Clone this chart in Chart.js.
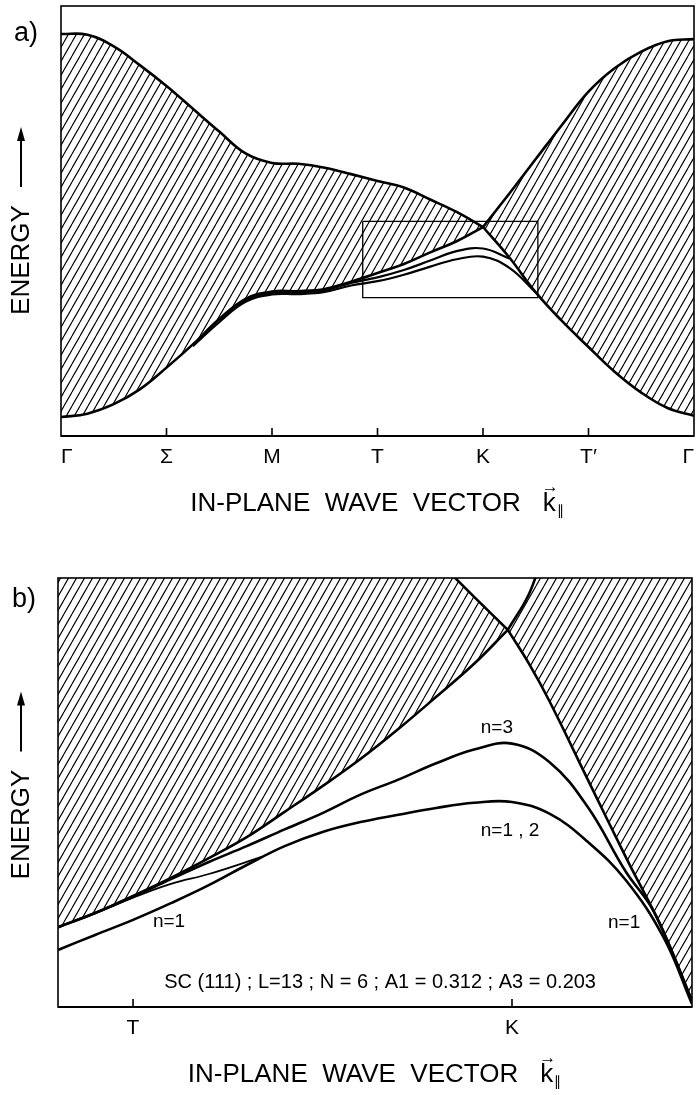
<!DOCTYPE html>
<html lang="en">
<head>
<meta charset="UTF-8">
<title>Surface states SC(111)</title>
<script src="https://cdn.jsdelivr.net/npm/chart.js"></script>
<style>
  html, body { margin: 0; padding: 0; background: #fff; }
  .panel { position: absolute; left: 0; width: 696px; }
  #panelA { top: 0; height: 530px; }
  #panelB { top: 530px; height: 565px; }
</style>
</head>
<body>
<div class="panel" id="panelA"><canvas id="chartA"></canvas></div>
<div class="panel" id="panelB"><canvas id="chartB"></canvas></div>
<script>
// ---- panel a : path G-S-M-T-K-T'-G ----
const ticksA = [0, 1, 2, 3, 4, 5, 6];
const tickLabelsA = ['Γ', 'Σ', 'M', 'T', 'K', 'T′', 'Γ'];
// band edges (K listed twice: the two edges meet there in a cusp)
const kA = [0, 0.25, 0.5, 0.75, 1, 1.25, 1.5, 1.75, 2, 2.25, 2.5, 2.75, 3, 3.25, 3.5, 3.75, 4, 4, 4.25, 4.5, 4.75, 5, 5.25, 5.5, 5.75, 6];
const upperA = [93.5, 93.3, 90.6, 86.2, 81.4, 76.1, 70.8, 65.7, 63.5, 63.3, 62.4, 60.9, 59.3, 57.8, 55.0, 52.1, 48.6, 48.6, 56.4, 64.4, 72.4, 80.1, 85.6, 89.4, 91.8, 92.3];
const lowerA = [4.4, 5.2, 7.4, 10.9, 15.9, 21.3, 27.2, 31.9, 33.6, 33.7, 34.2, 35.9, 37.9, 40.0, 42.7, 45.3, 48.6, 48.6, 41.5, 33.4, 26.7, 20.7, 14.9, 10.1, 6.5, 4.7];
// surface states
const s12A_k = [1.25, 1.5, 1.75, 2, 2.25, 2.5, 2.75, 3, 3.25, 3.5, 3.75, 4, 4.25, 4.5];
const s12A_E = [20.9, 26.5, 31.2, 32.9, 33.0, 33.5, 35.0, 36.0, 37.5, 39.4, 41.1, 41.7, 39.1, 33.4];
const s3A_k = [1.5, 1.75, 2, 2.25, 2.5, 2.75, 3, 3.25, 3.5, 3.75, 4, 4.25];
const s3A_E = [27.0, 31.6, 33.3, 33.4, 33.9, 35.6, 36.9, 38.6, 40.8, 43.0, 43.6, 41.3];
// region enlarged in panel b
const zoomK = [2.86, 4.52];
const zoomE = [32.2, 49.9];

// ---- panel b : close-up around K ----
const ticksB = [3, 4];
const tickLabelsB = ['T', 'K'];
const kB = [2.802, 2.9, 3.0, 3.1, 3.2, 3.3, 3.4, 3.5, 3.6, 3.7, 3.8, 3.9, 3.989, 3.989, 4.047, 4.1, 4.2, 4.3, 4.4, 4.475];
const upperB = [160, 157, 153, 147, 142, 137, 132, 127, 121, 113, 104.4, 95.6, 87.9, 87.9, 96.7, 110, 128, 145, 160, 172];
const lowerB = [18.6, 21.9, 25.9, 30.1, 34.7, 39.6, 45.5, 51.5, 57.8, 64.8, 72.3, 80.0, 87.9, 87.9, 79.7, 71.1, 53.0, 35.0, 17.5, 1.4];
const s3B_k = [2.802, 2.9, 3.0, 3.1, 3.2, 3.3, 3.4, 3.5, 3.6, 3.7, 3.8, 3.9, 4.0, 4.1, 4.2, 4.3, 4.364, 4.4, 4.475];
const s3B_E = [18.6, 21.9, 25.7, 29.8, 33.8, 37.5, 41.4, 45.2, 49.5, 53.0, 56.8, 60.0, 61.4, 57.0, 46.6, 31.6, 23.8, 17.5, 1.4];
const s12B_k = [2.802, 2.9, 3.0, 3.1, 3.2, 3.3, 3.4, 3.5, 3.6, 3.7, 3.8, 3.9, 4.0, 4.1, 4.2, 4.3, 4.4, 4.475];
const s12B_E = [13.3, 16.8, 20.3, 24.2, 28.4, 33.1, 37.5, 40.8, 43.1, 44.8, 46.4, 47.6, 47.8, 45.0, 38.5, 29.6, 16.2, 0.7];
const s2B_k = [2.9, 3.0, 3.1, 3.2, 3.34];
const s2B_E = [21.9, 25.5, 28.7, 31.0, 35.0];

const FAM = "'Liberation Sans', Arial, sans-serif";

const pts = (xs, ys) => xs.map((x, i) => ({ x: x, y: ys[i] }));

function hatch() {
    const c = document.createElement('canvas');
    c.width = 8; c.height = 14;
    const g = c.getContext('2d');
    g.strokeStyle = '#000';
    g.lineWidth = 1.15;
    g.beginPath();
    [-8, 0, 8].forEach(o => { g.moveTo(o, 14); g.lineTo(o + 8, 0); });
    g.stroke();
    return g.createPattern(c, 'repeat');
}
const pattern = hatch();

function curve(data, extra) {
    return Object.assign({
        data: data,
        borderColor: '#000',
        borderWidth: 2.6,
        pointRadius: 0,
        tension: 0.4,
        fill: false
    }, extra || {});
}

function drawYTitle(ctx, cx, cy) {
    ctx.save();
    ctx.translate(cx, cy);
    ctx.rotate(-Math.PI / 2);
    ctx.font = '26px ' + FAM;
    const tw = ctx.measureText('ENERGY').width;
    const arrowLen = 60, gap = 18;
    const L = tw + gap + arrowLen;
    const s = -L / 2;
    ctx.textAlign = 'left';
    ctx.textBaseline = 'middle';
    ctx.fillText('ENERGY', s, 1);
    const a0 = s + tw + gap, a1 = s + L;
    ctx.lineWidth = 2;
    ctx.beginPath(); ctx.moveTo(a0, 0); ctx.lineTo(a1 - 8, 0); ctx.stroke();
    ctx.beginPath(); ctx.moveTo(a1, 0); ctx.lineTo(a1 - 14, -4); ctx.lineTo(a1 - 14, 4); ctx.closePath(); ctx.fill();
    ctx.restore();
}

function drawXTitle(ctx, cx, base) {
    const main = 'IN-PLANE  WAVE  VECTOR';
    ctx.font = '26px ' + FAM;
    const wMain = ctx.measureText(main).width;
    const wK = ctx.measureText('k').width;
    const gap = 22, wSub = 9;
    const x0 = cx - (wMain + gap + wK + wSub) / 2;
    ctx.textAlign = 'left';
    ctx.textBaseline = 'alphabetic';
    ctx.fillText(main, x0, base);
    const kx = x0 + wMain + gap;
    ctx.fillText('k', kx, base);
    ctx.font = '17px ' + FAM;
    ctx.fillText('→', kx - 1, base - 19);
    ctx.font = '14px ' + FAM;
    ctx.fillText('∥', kx + wK + 1, base + 4);
}

const decor = {
    id: 'decor',
    afterDraw(chart, args, o) {
        const { ctx, chartArea: a, scales } = chart;
        const x = scales.x, y = scales.y;
        ctx.save();
        ctx.strokeStyle = '#000';
        ctx.fillStyle = '#000';
        ctx.lineWidth = 1.6;
        ctx.strokeRect(a.left, a.top, a.right - a.left, a.bottom - a.top);
        ctx.lineWidth = 2.2;
        ctx.beginPath(); ctx.moveTo(a.left, a.bottom); ctx.lineTo(a.right, a.bottom); ctx.stroke();
        // tick marks point into the plot
        ctx.lineWidth = 1.6;
        x.ticks.forEach(t => {
            const px = x.getPixelForValue(t.value);
            if (px > a.left + 2 && px < a.right - 2) {
                ctx.beginPath(); ctx.moveTo(px, a.bottom); ctx.lineTo(px, a.bottom - 8); ctx.stroke();
            }
        });
        ctx.font = '27px ' + FAM;
        ctx.textAlign = 'left';
        ctx.textBaseline = 'alphabetic';
        ctx.fillText(o.tag, o.tagX, o.tagY);
        drawYTitle(ctx, 21, (a.top + a.bottom) / 2 + (o.yTitleDy || 0));
        drawXTitle(ctx, (a.left + a.right) / 2, a.bottom + 75);
        (o.notes || []).forEach(n => {
            ctx.font = n.size + 'px ' + FAM;
            ctx.textAlign = 'center';
            ctx.textBaseline = 'middle';
            ctx.fillText(n.text, x.getPixelForValue(n.k), y.getPixelForValue(n.E));
        });
        ctx.restore();
    }
};

function makeChart(id, cfg) {
    return new Chart(document.getElementById(id), {
        type: 'line',
        data: { datasets: cfg.datasets },
        options: {
            responsive: true,
            maintainAspectRatio: false,
            animation: false,
            events: [],
            layout: { padding: cfg.padding },
            plugins: {
                legend: { display: false },
                tooltip: { enabled: false },
                decor: cfg.decor
            },
            scales: {
                x: {
                    type: 'linear',
                    min: cfg.xMin,
                    max: cfg.xMax,
                    afterBuildTicks: s => { s.ticks = cfg.ticks.map(v => ({ value: v })); },
                    afterFit: s => { s.height = cfg.axisHeight; s.paddingLeft = 0; s.paddingRight = 0; },
                    grid: { display: false, drawTicks: false },
                    border: { display: false },
                    ticks: {
                        autoSkip: false,
                        maxRotation: 0,
                        align: cfg.tickAlign,
                        padding: 9,
                        color: '#000',
                        font: { family: FAM, size: 21 },
                        callback: (v, i) => cfg.labels[i]
                    }
                },
                y: { type: 'linear', display: false, min: 0, max: 100 }
            }
        },
        plugins: [decor]
    });
}

makeChart('chartA', {
    padding: { left: 61, right: 2, top: 6, bottom: 0 },
    axisHeight: 94,
    xMin: 0, xMax: 6,
    ticks: ticksA, labels: tickLabelsA, tickAlign: 'inner',
    decor: { tag: 'a)', tagX: 14, tagY: 41 },
    datasets: [
        curve(pts(kA, upperA), { fill: '+1', backgroundColor: pattern }),
        curve(pts(kA, lowerA)),
        curve(pts(s12A_k, s12A_E), { borderWidth: 2.2 }),
        curve(pts(s3A_k, s3A_E), { borderWidth: 2.2 }),
        curve(pts([zoomK[0], zoomK[1], zoomK[1], zoomK[0], zoomK[0]], [zoomE[1], zoomE[1], zoomE[0], zoomE[0], zoomE[1]]),
              { borderWidth: 1.3, tension: 0 })
    ]
});

makeChart('chartB', {
    padding: { left: 58, right: 4, top: 48, bottom: 0 },
    axisHeight: 88,
    xMin: 2.802, xMax: 4.475,
    ticks: ticksB, labels: tickLabelsB, tickAlign: 'center',
    decor: {
        tag: 'b)', tagX: 12, tagY: 77, yTitleDy: -7,
        notes: [
            { text: 'n=3', k: 3.96, E: 65.0, size: 19 },
            { text: 'n=1 , 2', k: 3.995, E: 41.0, size: 19 },
            { text: 'n=1', k: 3.095, E: 19.8, size: 19 },
            { text: 'n=1', k: 4.296, E: 19.6, size: 19 },
            { text: 'SC (111) ; L=13 ; N = 6 ; A1 = 0.312 ; A3 = 0.203', k: 3.652, E: 5.8, size: 20 }
        ]
    },
    datasets: [
        curve(pts(kB, upperB), { fill: '+1', backgroundColor: pattern }),
        curve(pts(kB, lowerB)),
        curve(pts(s3B_k, s3B_E)),
        curve(pts(s12B_k, s12B_E)),
        curve(pts(s2B_k, s2B_E), { borderWidth: 1.8 })
    ]
});
</script>
</body>
</html>
